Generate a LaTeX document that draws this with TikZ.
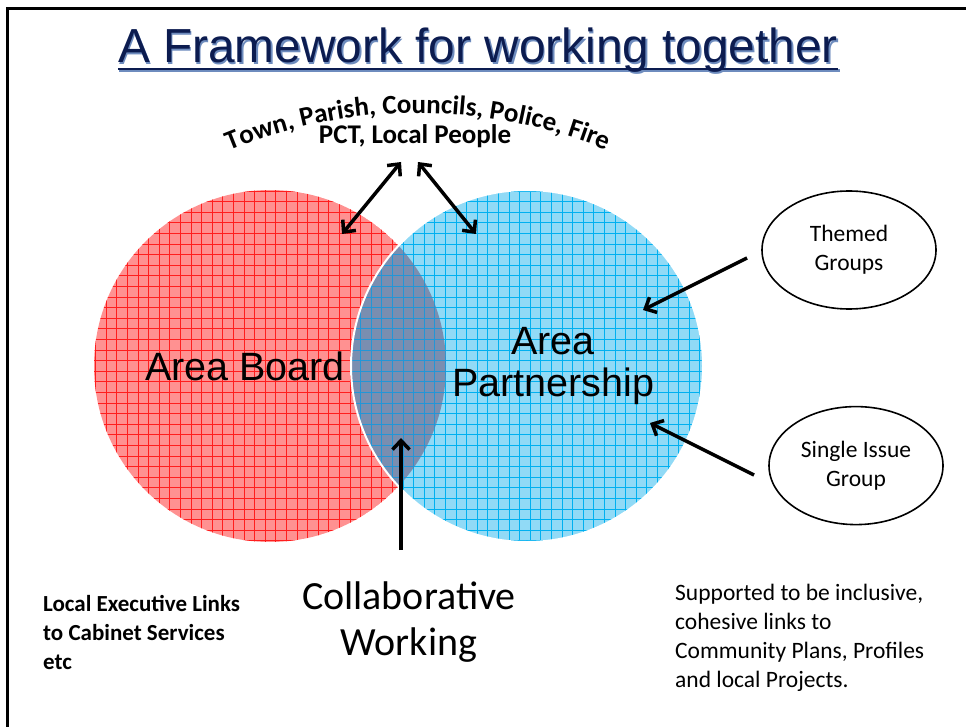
\documentclass[tikz,border=0pt]{standalone}
\usepackage{fontspec}
\setmainfont{Carlito}
\newfontfamily\arialfont{Liberation Sans}
\usetikzlibrary{arrows.meta,positioning,shapes.geometric,decorations.text}
\definecolor{titleblue}{RGB}{12,28,80}
\definecolor{titleshade}{RGB}{110,140,190}
\definecolor{boardfill}{RGB}{255,145,145}
\definecolor{boardgrid}{RGB}{255,30,30}
\definecolor{partfill}{RGB}{145,218,246}
\definecolor{partgrid}{RGB}{0,176,240}
\definecolor{overfill}{RGB}{122,142,176}
\definecolor{overgrid}{RGB}{35,150,215}
\tikzstyle{titletext}=[inner sep=0pt, anchor=base, font=\arialfont\fontsize{47.8}{50}\selectfont]
\tikzstyle{areatext}=[align=center, font=\arialfont\fontsize{39.5}{42}\selectfont]
\tikzstyle{group}=[draw, ellipse, line width=1.6pt, minimum width=174pt, minimum height=118pt, align=center, font=\fontsize{23.5}{29}\selectfont]
\tikzstyle{note}=[align=left, anchor=west, inner sep=0pt, font=\fontsize{23.5}{29}\selectfont]
\tikzstyle{link}=[line width=3.5pt]
\newcommand{\curvefont}{\bfseries\fontsize{27}{30}\selectfont}

\begin{document}
\begin{tikzpicture}[x=1pt,y=1pt,>={Straight Barb[length=9pt,width=17pt]}]
  \useasboundingbox (0,0) rectangle (966,-727);
  % frame
  \draw[line width=3pt] (7,-727) -- (7,-9) -- (966,-9);

  % the two circles
  \coordinate (bc) at (270,-366);
  \coordinate (pc) at (527,-366);
  \begin{scope}
    \clip (bc) circle[radius=176pt];
    \fill[boardfill] (bc) circle[radius=176pt];
    \draw[boardgrid, line width=0.45pt, step=10.6] (80,-180) grid (460,-560);
  \end{scope}
  \begin{scope}
    \clip (pc) circle[radius=176pt];
    \fill[partfill] (pc) circle[radius=176pt];
    \draw[partgrid, line width=0.45pt, step=10.6] (340,-180) grid (720,-560);
  \end{scope}
  \begin{scope}
    \clip (bc) circle[radius=176pt];
    \clip (pc) circle[radius=176pt];
    \fill[overfill] (pc) circle[radius=176pt];
    \draw[overgrid, line width=0.45pt, step=10.6] (340,-180) grid (460,-560);
  \end{scope}
  \draw[white, line width=2pt] (pc) circle[radius=176pt];

  % title
  \node[titletext, titleshade] (titleshadow) at (479.5,-64.5) {A Framework for working together};
  \draw[titleshade, line width=2.5pt] ([yshift=-6pt]titleshadow.base west) -- ([yshift=-6pt]titleshadow.base east);
  \node[titletext, titleblue] (title) at (478,-63) {A Framework for working together};
  \draw[titleblue, line width=2.5pt] ([yshift=-6pt]title.base west) -- ([yshift=-6pt]title.base east);

  % partners
  \path[decorate, decoration={text along path, text align=center,
    text={|\curvefont|Town, Parish, Councils, Police, Fire}}]
    (418,-608) ++(114.5:495) arc[start angle=114.5, end angle=65.5, radius=495];
  \node[anchor=base, font=\curvefont] (pct) at (415,-144) {PCT, Local People};

  \node[areatext] (board) at (245,-366) {Area Board};
  \node[areatext] (partner) at (553,-366) {Area\\Partnership};

  \node[group] (themed) at (849,-250) {Themed\\Groups};
  \node[group] (single) [below=96pt of themed, xshift=7pt] {Single Issue\\Group};

  \node[align=center, font=\fontsize{40}{46}\selectfont] (collab) at (409,-622) {Collaborative\\Working};
  \node[note, font=\bfseries\fontsize{23}{29}\selectfont] (exec) at (43,-632) {Local Executive Links\\to Cabinet Services\\etc};
  \node[note] (support) at (675,-638) {Supported to be inclusive,\\cohesive links to\\Community Plans, Profiles\\and local Projects.};

  % connectors
  \coordinate (pctl) at (401,-162);
  \coordinate (pctr) at (418,-162);
  \coordinate (boardin) at (342,-234);
  \coordinate (partin) at (476,-234);
  \coordinate (collabtop) at (401,-550);
  \coordinate (overin) at (401,-438);
  \coordinate (themedout) at (747,-258);
  \coordinate (themedin) at (643,-310);
  \coordinate (singleout) at (754,-475);
  \coordinate (singlein) at (650,-423);
  \draw[<->, link] (pctl) -- (boardin);
  \draw[<->, link] (pctr) -- (partin);
  \draw[->, link] (collabtop) -- (overin);
  \draw[->, link] (themedout) -- (themedin);
  \draw[->, link] (singleout) -- (singlein);
\end{tikzpicture}
\end{document}
